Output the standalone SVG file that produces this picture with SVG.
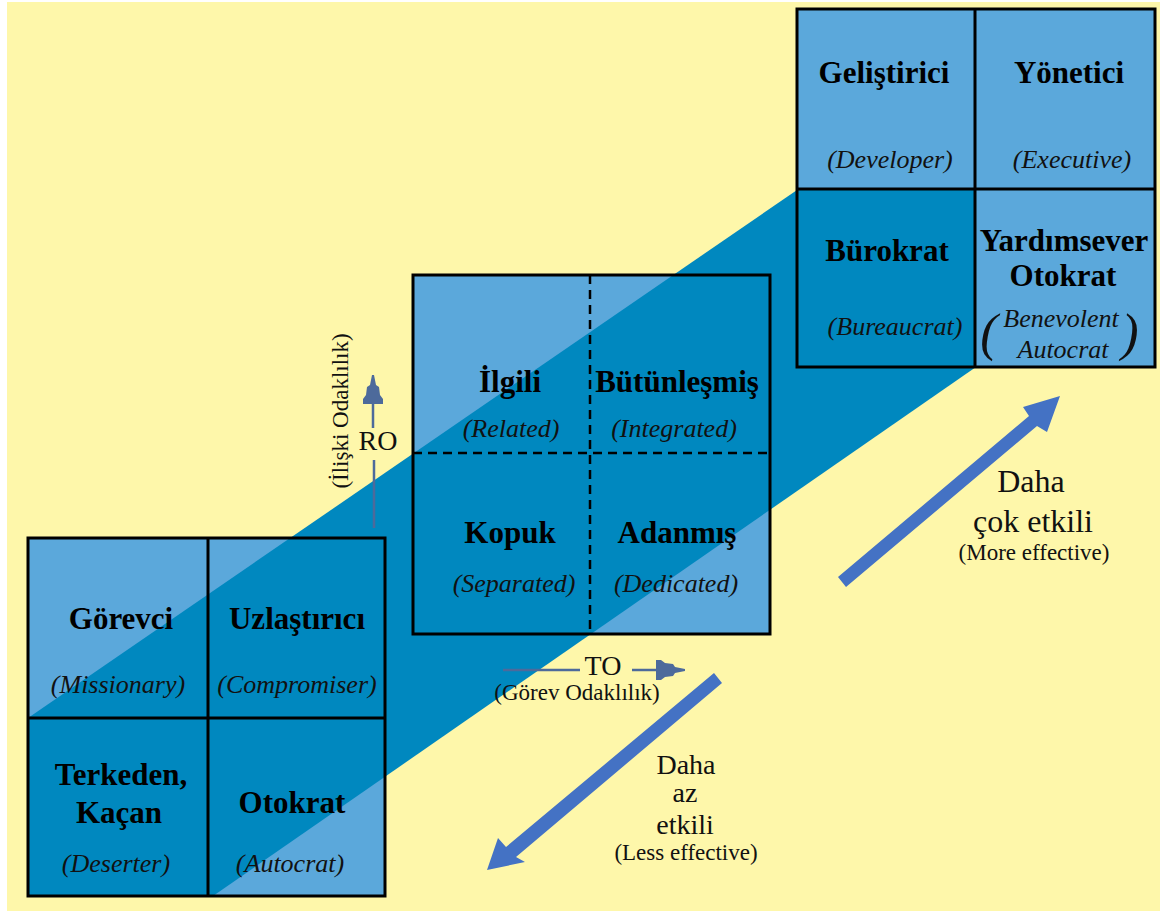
<svg xmlns="http://www.w3.org/2000/svg" width="1160" height="911" viewBox="0 0 1160 911">
<style>
text{font-family:"Liberation Serif","Times New Roman",Times,"Noto Serif","DejaVu Serif",serif}
.b{font-weight:bold;font-size:31px;fill:#000;text-anchor:middle}
.i{font-style:italic;font-size:26px;fill:#111;text-anchor:middle}
.r{font-size:32px;fill:#111;text-anchor:middle}
.s{font-size:23px;fill:#111;text-anchor:middle}
.frame{fill:none;stroke:#000;stroke-width:3}
.div{stroke:#000;stroke-width:3}
.dash{stroke:#000;stroke-width:2.5;stroke-dasharray:9 6}
.light{fill:#5BA8DB}
.dark{fill:#0088BF}
.thin{stroke:#4D6A9B;stroke-width:2.5;fill:none}
.head{fill:#4D6A9B}
.big{fill:#4472C4}
</style>
<rect width="1160" height="911" fill="#fff"/>
<rect x="7" y="2" width="1153" height="909" fill="#FEF7AA"/>
<g id="band-base">
<rect class="light" x="28" y="538" width="357" height="358"/>
<rect class="light" x="413" y="275" width="357" height="359"/>
<polygon class="dark" points="28,718 800,188 976,367 213,896 28,896"/>
</g>
<g id="box-low">
<rect class="frame" x="28" y="538" width="357" height="358"/>
<line class="div" x1="208" y1="538" x2="208" y2="896"/>
<line class="div" x1="28" y1="718" x2="385" y2="718"/>
<text class="b" x="121" y="629">Görevci</text>
<text class="i" x="118" y="693">(Missionary)</text>
<text class="b" x="297" y="629">Uzlaştırıcı</text>
<text class="i" x="297" y="693">(Compromiser)</text>
<text class="b" x="121" y="785">Terkeden,</text>
<text class="b" x="119" y="823">Kaçan</text>
<text class="i" x="116" y="872">(Deserter)</text>
<text class="b" x="292" y="813">Otokrat</text>
<text class="i" x="290" y="872">(Autocrat)</text>
</g>
<g id="box-mid">
<rect class="frame" x="413" y="275" width="357" height="359"/>
<line class="dash" x1="590" y1="275" x2="590" y2="634"/>
<line class="dash" x1="413" y1="453" x2="770" y2="453"/>
<text class="b" x="510" y="392">İlgili</text>
<text class="i" x="511" y="437">(Related)</text>
<text class="b" x="677" y="392">Bütünleşmiş</text>
<text class="i" x="674" y="437">(Integrated)</text>
<text class="b" x="510" y="543">Kopuk</text>
<text class="i" x="514" y="592">(Separated)</text>
<text class="b" x="677" y="543">Adanmış</text>
<text class="i" x="676" y="592">(Dedicated)</text>
</g>
<g id="box-top">
<rect class="light" x="797" y="9" width="358" height="358"/>
<rect class="dark" x="797" y="189" width="178" height="178"/>
<rect class="frame" x="797" y="9" width="358" height="358"/>
<line class="div" x1="975" y1="9" x2="975" y2="367"/>
<line class="div" x1="797" y1="189" x2="1155" y2="189"/>
<text class="b" x="884" y="83">Geliştirici</text>
<text class="i" x="890" y="168">(Developer)</text>
<text class="b" x="1069" y="83">Yönetici</text>
<text class="i" x="1072" y="168">(Executive)</text>
<text class="b" x="887" y="261">Bürokrat</text>
<text class="i" x="895" y="335">(Bureaucrat)</text>
<text class="b" x="1064" y="251">Yardımsever</text>
<text class="b" x="1063" y="286">Otokrat</text>
<text class="i" x="1061" y="327">Benevolent</text>
<text class="i" x="1063" y="358">Autocrat</text>
<text class="i" x="989" y="350" style="font-size:52px">(</text>
<text class="i" x="1130" y="350" style="font-size:52px">)</text>
</g>
<g id="axis-ro">
<line class="thin" x1="374" y1="460" x2="374" y2="528"/>
<line class="thin" x1="373" y1="402" x2="373" y2="428"/>
<polygon class="head" points="372,375 374,375 376,385 379,387 380,395 383,399 383,404 363,404 363,399 366,395 367,387 370,385"/>
<text class="r" x="378" y="450" style="font-size:28px">RO</text>
<text class="s" transform="translate(348,411) rotate(-90)">(İlişki Odaklılık)</text>
</g>
<g id="axis-to">
<line class="thin" x1="503" y1="670" x2="580" y2="670"/>
<line class="thin" x1="632" y1="670" x2="660" y2="670"/>
<polygon class="head" points="685,669 685,671 675,673 673,676 665,677 661,680 656,680 656,660 661,660 665,663 673,664 675,667"/>
<text class="r" x="603" y="675" style="font-size:28px">TO</text>
<text class="s" x="577" y="700">(Görev Odaklılık)</text>
</g>
<g id="connectors">
<polygon class="big" points="838,577 1029,416 1023,407 1060,396 1047,432 1037,426 846,587"/>
<polygon class="big" points="714,673 506,847 498,838 487,870 525,862 516,857 722,683"/>
</g>
<g id="labels-effect">
<text class="r" x="1031" y="492">Daha</text>
<text class="r" x="1033" y="532">çok etkili</text>
<text class="s" x="1034" y="560">(More effective)</text>
<text class="r" x="686" y="774" style="font-size:28px">Daha</text>
<text class="r" x="685" y="802" style="font-size:28px">az</text>
<text class="r" x="685" y="834" style="font-size:28px">etkili</text>
<text class="s" x="686" y="860">(Less effective)</text>
</g>
</svg>
